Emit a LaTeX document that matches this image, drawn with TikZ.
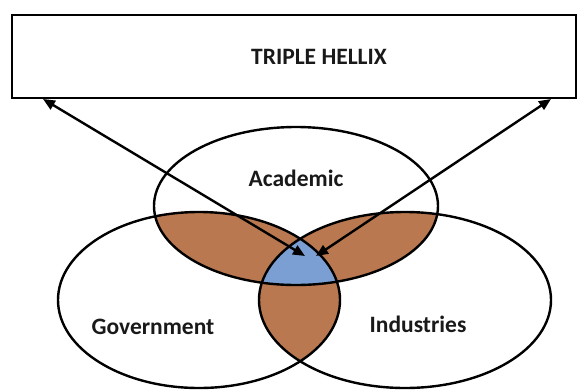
\documentclass[tikz,border=0pt]{standalone}
\usepackage{fontspec}
\setmainfont{Carlito}
\usetikzlibrary{arrows.meta}
\definecolor{lobebrown}{RGB}{185,120,80}
\definecolor{coreblue}{RGB}{123,159,211}
\tikzstyle{banner} = [rectangle, draw=black, line width=2.4pt, minimum width=564pt, minimum height=83pt]
\tikzstyle{setlabel} = [font=\fontsize{23.5}{27}\selectfont\bfseries, text=black!90]
\tikzstyle{arrow} = [line width=2.4pt, {Triangle[length=12pt,width=10pt]}-{Triangle[length=12pt,width=10pt]}]
\tikzstyle{setline} = [draw=black, line width=2.4pt]
\def\academic{(296,206) ellipse [x radius=142pt, y radius=79pt]}
\def\government{(199,300) ellipse [x radius=141pt, y radius=88pt]}
\def\industries{(405,300) ellipse [x radius=146pt, y radius=88pt]}
\begin{document}
\begin{tikzpicture}[x=1pt, y=-1pt]
\useasboundingbox (0,0) rectangle (578,389);

% shaded overlaps
\begin{scope}
  \clip \academic;
  \fill[lobebrown] \government;
  \fill[lobebrown] \industries;
\end{scope}
\begin{scope}
  \clip \government;
  \fill[lobebrown] \industries;
\end{scope}
\begin{scope}
  \clip \government;
  \clip \industries;
  \fill[coreblue] \academic;
\end{scope}

% outlines
\draw [setline] \academic;
\draw [setline] \government;
\draw [setline] \industries;

\node (hellix) [banner] at (294,56.5) {};
\node (hellixtext) [setlabel] at (319,57) {TRIPLE HELLIX};
\node (acad) [setlabel] at (296,178) {Academic};
\node (gov) [setlabel] at (153,327) {Government};
\node (ind) [setlabel] at (418,324) {Industries};

\coordinate (lefttop) at (43,99);
\coordinate (leftcore) at (305,256);
\coordinate (righttop) at (551,99);
\coordinate (rightcore) at (316,256);

\draw [arrow] (leftcore) -- (lefttop);
\draw [arrow] (rightcore) -- (righttop);

\end{tikzpicture}
\end{document}
